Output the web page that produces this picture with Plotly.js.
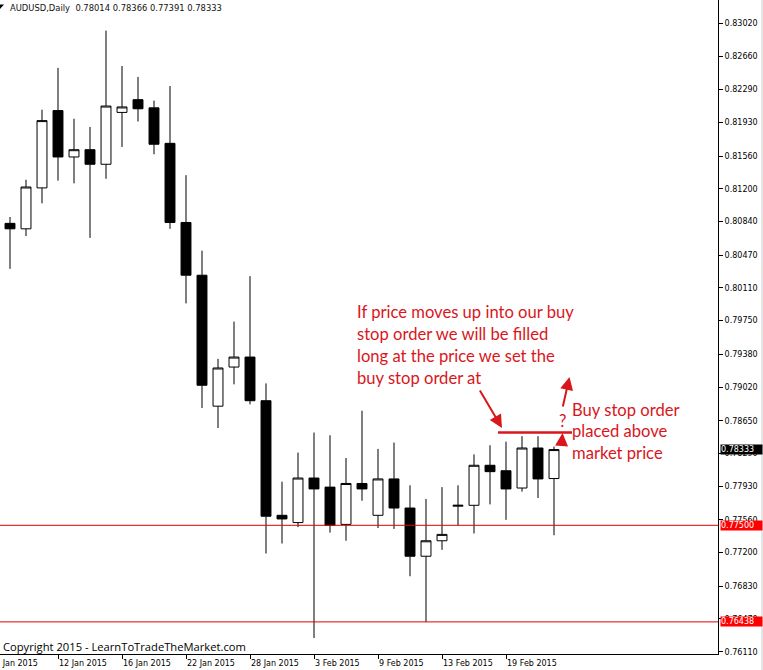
<!DOCTYPE html>
<html><head><meta charset="utf-8">
<script src="https://cdn.plot.ly/plotly-3.0.1.min.js"></script>
<style>html,body{margin:0;padding:0;background:#fff;overflow:hidden}#chart{width:763px;height:670px}</style>
</head><body><div id="chart"></div>
<script>
// ---------- data ----------
const symbol = 'AUDUSD,Daily';
const dates = ['2015-01-07','2015-01-08','2015-01-09','2015-01-12','2015-01-13','2015-01-14','2015-01-15','2015-01-16',
  '2015-01-19','2015-01-20','2015-01-21','2015-01-22','2015-01-23','2015-01-26','2015-01-27','2015-01-28','2015-01-29',
  '2015-01-30','2015-02-02','2015-02-03','2015-02-04','2015-02-05','2015-02-06','2015-02-09','2015-02-10','2015-02-11',
  '2015-02-12','2015-02-13','2015-02-16','2015-02-17','2015-02-18','2015-02-19','2015-02-20','2015-02-23','2015-02-24'];
const openP  = [0.8082,0.8076,0.8121,0.8206,0.8155,0.8163,0.8147,0.8204,0.8218,0.8209,0.8170,0.8083,0.8025,0.7881,0.7924,0.7935,0.7887,
  0.7761,0.7753,0.7802,0.7792,0.7751,0.7796,0.7761,0.7801,0.7769,0.7716,0.7733,0.7771,0.7772,0.7816,0.7810,0.7791,0.7835,0.78014];
const highP  = [0.8089,0.8130,0.8207,0.8253,0.8197,0.8188,0.8294,0.8255,0.8243,0.8217,0.8233,0.8135,0.8052,0.7933,0.7974,0.8024,0.7906,
  0.7798,0.7830,0.7852,0.7849,0.7824,0.7876,0.7834,0.7841,0.7794,0.7779,0.7792,0.7794,0.7828,0.7838,0.7842,0.7848,0.7848,0.78366];
const lowP   = [0.8032,0.8068,0.8104,0.8129,0.8126,0.8066,0.8131,0.8166,0.8194,0.8158,0.8076,0.7994,0.7879,0.7857,0.7905,0.7883,0.7719,
  0.7730,0.7748,0.7626,0.7742,0.7733,0.7777,0.7747,0.7746,0.7694,0.76438,0.7723,0.7750,0.7741,0.7773,0.7756,0.7787,0.7780,0.77391];
const closeP = [0.8076,0.8122,0.8195,0.8155,0.8163,0.8147,0.8211,0.8210,0.8208,0.8169,0.8083,0.8025,0.7904,0.7923,0.7935,0.7887,0.7760,
  0.7757,0.7802,0.7790,0.7750,0.7796,0.7790,0.7801,0.7769,0.7716,0.7733,0.7740,0.7772,0.7816,0.7809,0.7790,0.7835,0.7801,0.78333];
const priceTicks = [0.83020,0.82660,0.82290,0.81930,0.81560,0.81200,0.80840,0.80470,0.80110,0.79750,
  0.79380,0.79020,0.78650,0.78290,0.77930,0.77560,0.77200,0.76830,0.76470,0.76110];
const tickDates  = ['2015-01-06','2015-01-12','2015-01-16','2015-01-22','2015-01-28','2015-02-03','2015-02-09','2015-02-13','2015-02-19'];
const tickLabels = ['6 Jan 2015','12 Jan 2015','16 Jan 2015','22 Jan 2015','28 Jan 2015','3 Feb 2015','9 Feb 2015','13 Feb 2015','19 Feb 2015'];
const levelLines = [0.77500, 0.76438];
const buyStopLevel = 0.7852;
const noteLines  = ['If price moves up into our buy','stop order we will be filled','long at the price we set the','buy stop order at'];
const orderLines = ['Buy stop order','placed above','market price'];
const copyright = 'Copyright 2015 - LearnToTradeTheMarket.com';

// ---------- helpers ----------
const W = 718, H = 654;
const xRange = [-0.625, 44.25], yRange = [0.76085, 0.83276];
const pX = px => px / W, pY = py => 1 - py / H;
const dX = px => xRange[0] + px / W * (xRange[1] - xRange[0]);
const dY = py => yRange[1] - py / H * (yRange[1] - yRange[0]);
const xToPaper = x => (x - xRange[0]) / (xRange[1] - xRange[0]);
function tradingIndex(ds) {
  const i = dates.indexOf(ds); if (i >= 0) return i;
  let d = new Date(ds + 'T00:00:00Z'), d0 = new Date(dates[0] + 'T00:00:00Z'), n = 0;
  while (d < d0) { if (d.getUTCDay() % 6) n--; d.setUTCDate(d.getUTCDate() + 1); }
  return n;
}
const xIdx = dates.map((d, i) => i);
const tickPos = tickDates.map(tradingIndex);

const RED = '#d9161c';
const axFont = {family: 'DejaVu Sans', size: 8, color: '#000'};
const noteFont = {family: 'Lato', size: 16.6, color: RED};

const trace = {
  type: 'candlestick', x: xIdx, open: openP, high: highP, low: lowP, close: closeP,
  increasing: {line: {color: '#000', width: 1}, fillcolor: '#fff'},
  decreasing: {line: {color: '#000', width: 1}, fillcolor: '#000'},
  whiskerwidth: 0, hoverinfo: 'skip', showlegend: false
};

const annotations = [];
// header
annotations.push({xref: 'paper', yref: 'paper', x: pX(8), y: pY(8), xanchor: 'left', yanchor: 'middle', showarrow: false,
  text: symbol + '  ' + [openP[34], highP[34], lowP[34], closeP[34]].map(v => v.toFixed(5)).join(' '),
  font: {family: 'DejaVu Sans', size: 8.4, color: '#111'}});
// x tick labels (left aligned at tick)
tickPos.forEach((p, i) => annotations.push({xref: 'paper', yref: 'paper', x: xToPaper(p), y: 0, xanchor: 'left', yanchor: 'top',
  yshift: -4, showarrow: false, text: tickLabels[i], font: axFont, borderpad: 0}));
// copyright
annotations.push({xref: 'paper', yref: 'paper', x: pX(1), y: pY(646), xanchor: 'left', yanchor: 'middle', showarrow: false,
  text: copyright, font: {family: 'Open Sans', size: 11.2, color: '#000'}});
// price labels on axis
const boxLabel = (v, bg) => ({xref: 'paper', yref: 'y', x: 1, y: v, xanchor: 'left', yanchor: 'middle', xshift: 2,
  showarrow: false, text: v.toFixed(5), bgcolor: bg, borderpad: 0, width: 41, align: 'left',
  font: {family: 'DejaVu Sans', size: 8, color: '#fff'}});
annotations.push(boxLabel(closeP[34], '#000'));
levelLines.forEach(v => annotations.push(boxLabel(v, '#ff0000')));
// notes
noteLines.forEach((t, i) => annotations.push({xref: 'paper', yref: 'paper', x: pX(355), y: pY(312 + 22 * i),
  xanchor: 'left', yanchor: 'middle', showarrow: false, text: t, font: noteFont}));
orderLines.forEach((t, i) => annotations.push({xref: 'paper', yref: 'paper', x: pX(570), y: pY(410 + 21.5 * i),
  xanchor: 'left', yanchor: 'middle', showarrow: false, text: t, font: noteFont}));
annotations.push({xref: 'paper', yref: 'paper', x: pX(562), y: pY(421), xanchor: 'center', yanchor: 'middle',
  showarrow: false, text: '?', font: noteFont});
// arrows
const arrow = (tx, ty, sx, sy) => ({xref: 'x', yref: 'y', x: dX(tx), y: dY(ty), axref: 'pixel', ayref: 'pixel',
  ax: sx - tx, ay: sy - ty, text: '', showarrow: true, arrowhead: 2, arrowsize: 1.3, arrowwidth: 2, arrowcolor: RED});
annotations.push(arrow(502, 428, 479, 389));
annotations.push(arrow(569.5, 377, 562.5, 408));
annotations.push(arrow(562.5, 433, 561.5, 447));

const shapes = [];
levelLines.forEach(v => shapes.push({type: 'line', xref: 'paper', yref: 'y', x0: 0, x1: 1, y0: v, y1: v,
  line: {color: '#e00000', width: 1}}));
shapes.push({type: 'line', xref: 'x', yref: 'y', x0: dX(498), x1: dX(572), y0: buyStopLevel, y1: buyStopLevel,
  line: {color: RED, width: 2.5}});
shapes.push({type: 'rect', xref: 'paper', yref: 'paper', x0: pX(761), x1: pX(765), y0: pY(672), y1: 1,
  fillcolor: '#e6e6e6', line: {width: 0}});
shapes.push({type: 'path', xref: 'paper', yref: 'paper',
  path: `M ${pX(0)} ${pY(4.5)} L ${pX(4)} ${pY(4.5)} L ${pX(0)} ${pY(9)} Z`, fillcolor: '#000', line: {width: 0}});

const layout = {
  width: 763, height: 670, margin: {l: 0, r: 45, t: 0, b: 16, pad: 0},
  paper_bgcolor: '#fff', plot_bgcolor: '#fff', showlegend: false,
  boxgap: 0.38, boxgroupgap: 0, hovermode: false,
  xaxis: {type: 'linear', range: xRange, rangeslider: {visible: false}, showgrid: false, zeroline: false,
    showline: true, linecolor: '#000', linewidth: 1, tickvals: tickPos, ticks: 'outside', ticklen: 4,
    tickcolor: '#000', tickwidth: 1, showticklabels: false, automargin: false, fixedrange: true},
  yaxis: {side: 'right', range: yRange, showgrid: false, zeroline: false, showline: true, linecolor: '#000',
    linewidth: 1, tickvals: priceTicks, ticktext: priceTicks.map(v => v.toFixed(5)), ticks: 'outside',
    ticklen: 4, tickcolor: '#000', tickwidth: 1, tickfont: axFont, automargin: false, fixedrange: true},
  annotations, shapes
};
Plotly.newPlot('chart', [trace], layout, {displayModeBar: false, staticPlot: true});
</script></body></html>
